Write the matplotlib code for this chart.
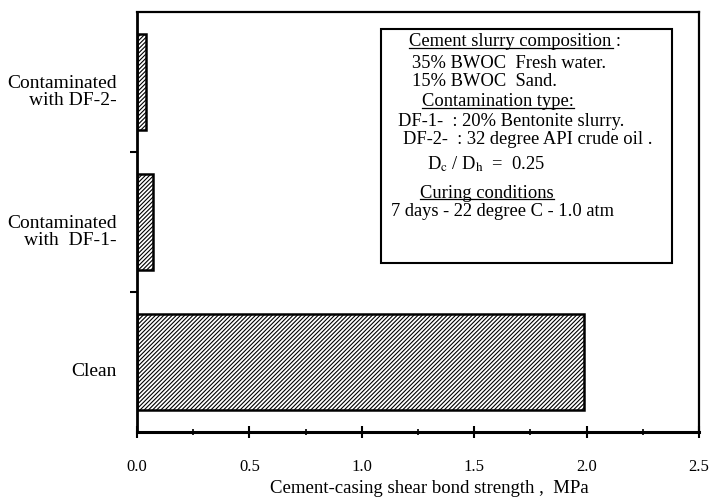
#! /usr/bin/env python3
""" Shear bond strength of cement-casing, clean vs contaminated slurries. """

import matplotlib
matplotlib.use('Agg')
import matplotlib.pyplot as plt
from matplotlib.patches import Rectangle

plt.rcParams['font.family'] = ['Liberation Serif', 'DejaVu Serif']
plt.rcParams['mathtext.fontset'] = 'stix'
plt.rcParams['hatch.linewidth'] = 0.8

categories = ['Clean', 'Contaminated\nwith  DF-1-', 'Contaminated\nwith DF-2-']
strength = [1.99, 0.07, 0.04]
x_ticks = [0.0, 0.5, 1.0, 1.5, 2.0, 2.5]
x_minor = [0.25, 0.75, 1.25, 1.75, 2.25]

box_lines = [
    ('Cement slurry composition :', 409, 42, True),
    ('35% BWOC  Fresh water.', 412, 63, False),
    ('15% BWOC  Sand.', 412, 81, False),
    ('Contamination type:', 422, 102, True),
    ('DF-1-  : 20% Bentonite slurry.', 398, 121, False),
    ('DF-2-  : 32 degree API crude oil .', 403, 139, False),
    (r'D$_{\mathrm{c}}$ / D$_{\mathrm{h}}$  =  0.25', 427, 164, False),
    ('Curing conditions', 420, 193, True),
    ('7 days - 22 degree C - 1.0 atm', 391, 212, False),
]


def main():
    W, H = 714, 500
    fig = plt.figure(figsize=(W / 100, H / 100), dpi=100)
    ax = fig.add_axes([137 / W, 1 - 432 / H, (699 - 137) / W, (432 - 12) / H])

    pos = range(len(categories))
    ax.barh(pos, strength, height=0.68, color='white', edgecolor='black',
            linewidth=1.8, hatch='////////')

    ax.set_xlim(0, 2.5)
    ax.set_ylim(-0.5, 2.5)
    ax.set_xticks(x_ticks)
    ax.set_xticklabels(['{:.1f}'.format(v) for v in x_ticks], fontsize=12)
    ax.set_xticks(x_minor, minor=True)
    ax.set_yticks([0.5, 1.5])
    ax.set_yticklabels([])
    ax.tick_params(axis='x', which='major', direction='inout', length=9,
                   width=1.5, pad=15)
    ax.tick_params(axis='x', which='minor', direction='inout', length=5,
                   width=1.2)
    ax.tick_params(axis='y', direction='out', length=5, width=1.5)

    for side, lw in [('left', 2.0), ('bottom', 2.2), ('top', 1.6),
                     ('right', 1.6)]:
        ax.spines[side].set_linewidth(lw)

    for p, lab in zip(pos, categories):
        ax.text(-0.036, p - 0.07, lab, ha='right', va='center', fontsize=14,
                linespacing=1.0, transform=ax.get_yaxis_transform())

    ax.set_xlabel('Cement-casing shear bond strength ,  MPa', fontsize=13.5)
    ax.xaxis.set_label_coords(0.521, -0.115)

    # Info box
    fig.patches.append(Rectangle((381 / W, 1 - 263 / H), (672 - 381) / W,
                                 (263 - 29) / H, transform=fig.transFigure,
                                 facecolor='white', edgecolor='black',
                                 linewidth=1.5, zorder=5))
    texts = []
    for txt, x, y, underline in box_lines:
        t = fig.text(x / W, 1 - y / H, txt, ha='left', va='center',
                     fontsize=13.3, zorder=6)
        texts.append((t, underline))

    fig.canvas.draw()
    renderer = fig.canvas.get_renderer()
    for t, underline in texts:
        if not underline:
            continue
        bb = t.get_window_extent(renderer)
        x0, x1 = bb.x0 / W, bb.x1 / W
        if t.get_text().endswith(' :'):
            x1 = (bb.x1 - 8) / W
        yl = (bb.y0 + 3) / H
        fig.add_artist(plt.Line2D([x0, x1], [yl, yl], color='black',
                                  linewidth=0.9, zorder=6))

    fig.savefig('out.png', dpi=100)


if __name__ == "__main__":
    main()
